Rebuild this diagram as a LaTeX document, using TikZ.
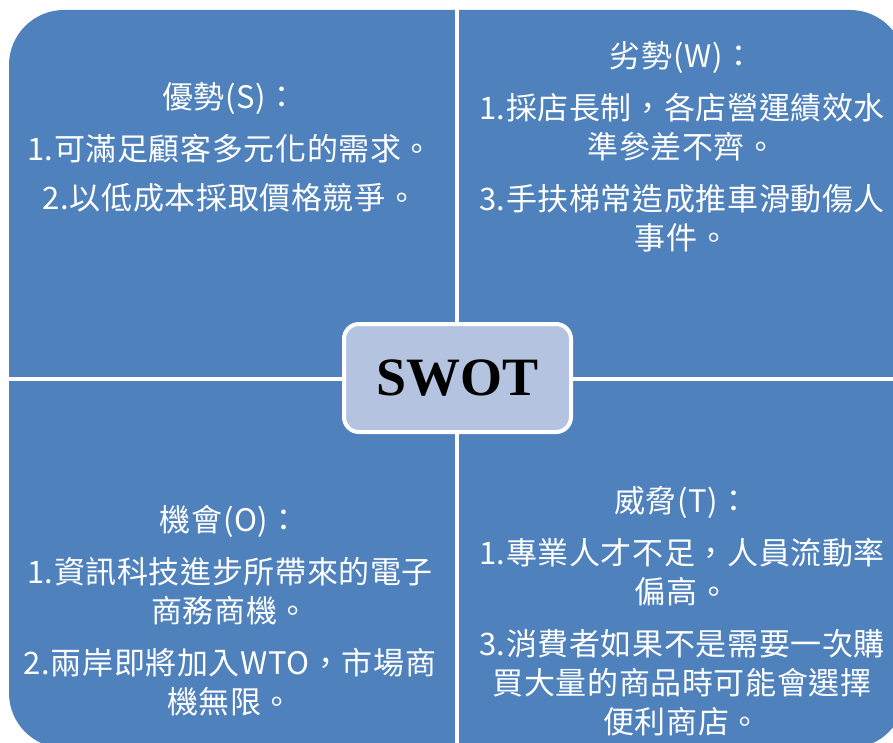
\documentclass[tikz,border=0pt]{standalone}
\usepackage{fontspec}
\setmainfont{Liberation Serif}
\newfontfamily\cjk{Noto Sans CJK TC}[LetterSpace=2]
\definecolor{quadblue}{HTML}{4F81BD}
\definecolor{centerfill}{HTML}{B4C4E0}
\tikzset{
  quadtext/.style={text=white, align=center, font=\cjk\fontsize{31}{39}\selectfont, inner sep=0pt},
  centerbox/.style={draw=white, line width=4pt, fill=centerfill, rounded corners=15pt,
    minimum width=227pt, minimum height=108pt, font=\bfseries\fontsize{54}{60}\selectfont, text=black},
  divider/.style={draw=white, line width=4pt}
}
\begin{document}
\begin{tikzpicture}[x=1pt,y=-1pt]
\useasboundingbox (0,0) rectangle (893,743);
\clip (0,0) rectangle (893,743);
\fill[white] (0,0) rectangle (893,743);
\fill[quadblue, rounded corners=55pt] (9,10) rectangle (905,748);
\coordinate (vt) at (457,0);
\coordinate (vb) at (457,760);
\coordinate (hl) at (0,379);
\coordinate (hr) at (920,379);
\draw[divider] (vt) -- (vb);
\draw[divider] (hl) -- (hr);
\node[centerbox] (swot) at (457.5,378) {SWOT};
\node[quadtext] (s) at (230,147) {優勢(S)：\\[13pt]1.可滿足顧客多元化的需求。\\[10pt]2.以低成本採取價格競爭。};
\node[quadtext] (w) at (682,147) {劣勢(W)：\\[13pt]1.採店長制，各店營運績效水\\準參差不齊。\\[13pt]3.手扶梯常造成推車滑動傷人\\事件。};
\node[quadtext] (o) at (230,611) {機會(O)：\\[13pt]1.資訊科技進步所帶來的電子\\商務商機。\\[13pt]2.兩岸即將加入WTO，市場商\\機無限。};
\node[quadtext] (t) at (682,611) {威脅(T)：\\[13pt]1.專業人才不足，人員流動率\\偏高。\\[13pt]3.消費者如果不是需要一次購\\買大量的商品時可能會選擇\\便利商店。};
\end{tikzpicture}
\end{document}
